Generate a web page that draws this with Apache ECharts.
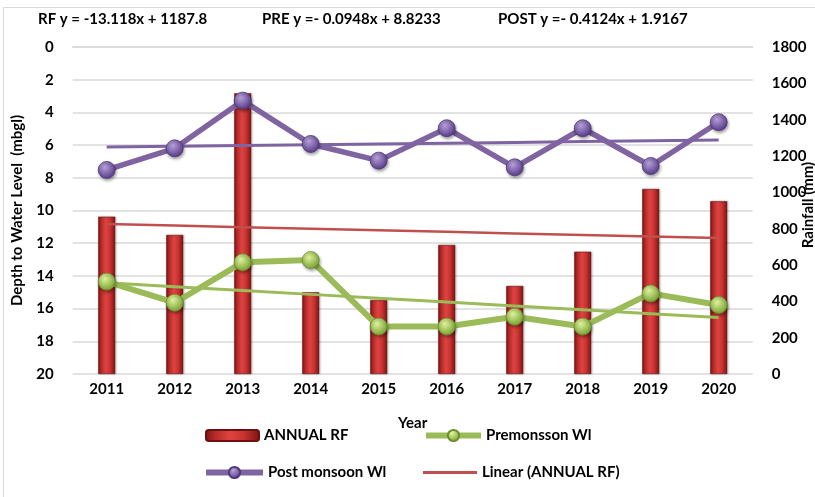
<!DOCTYPE html>
<html>
<head>
<meta charset="utf-8">
<script src="https://cdn.jsdelivr.net/npm/echarts@6/dist/echarts.min.js"></script>
<style>
  html, body { margin: 0; padding: 0; background: #ffffff; }
  #chart { width: 815px; height: 497px; }
</style>
</head>
<body>
<div id="chart"></div>
<script>
// Years on the category axis
const years = ['2011', '2012', '2013', '2014', '2015', '2016', '2017', '2018', '2019', '2020'];
// Annual rainfall (mm), right axis
const annualRF = [866, 765, 1545, 450, 407, 710, 484, 673, 1018, 951];
// Pre-monsoon depth to water level (mbgl), left axis
const preMonsoonWL = [14.35, 15.64, 13.17, 13.03, 17.1, 17.1, 16.5, 17.1, 15.07, 15.78];
// Post-monsoon depth to water level (mbgl), left axis
const postMonsoonWL = [7.52, 6.2, 3.28, 5.93, 6.95, 4.97, 7.36, 4.97, 7.28, 4.6];
// Tick labels
const depthTicks = ['0', '2', '4', '6', '8', '10', '12', '14', '16', '18', '20'];
const rainTicks = ['0', '200', '400', '600', '800', '1000', '1200', '1400', '1600', '1800'];
// Trend equations shown above the plot
const equations = ['RF y = -13.118x + 1187.8', 'PRE y =- 0.0948x + 8.8233', 'POST y =- 0.4124x + 1.9167'];

// Least-squares linear trend over the category index
function linearTrend(values) {
  const n = values.length;
  let sx = 0, sy = 0, sxy = 0, sxx = 0;
  values.forEach((v, i) => { sx += i; sy += v; sxy += i * v; sxx += i * i; });
  const slope = (n * sxy - sx * sy) / (n * sxx - sx * sx);
  const intercept = (sy - slope * sx) / n;
  return values.map((_, i) => +(intercept + slope * i).toFixed(3));
}

const FONT = 'Lato';
const TXT = '#000000';
const GRID = '#d9d9d9';

function sphere(light, dark) {
  return {
    type: 'radial', x: 0.38, y: 0.32, r: 0.75,
    colorStops: [
      { offset: 0, color: light },
      { offset: 1, color: dark }
    ]
  };
}

const barFill = {
  type: 'linear', x: 0, y: 0, x2: 1, y2: 0,
  colorStops: [
    { offset: 0, color: '#7a1414' },
    { offset: 0.18, color: '#b52a28' },
    { offset: 0.45, color: '#de4341' },
    { offset: 0.7, color: '#c93331' },
    { offset: 1, color: '#7a1414' }
  ]
};

const chart = echarts.init(document.getElementById('chart'), null, { renderer: 'canvas' });

const legendText = { fontFamily: FONT, fontWeight: 'bold', fontSize: 15, color: TXT };

chart.setOption({
  animation: false,
  backgroundColor: '#ffffff',
  graphic: [
    {
      type: 'rect', silent: true, z: -10,
      shape: { x: 3.5, y: 7.5, width: 900, height: 900 },
      style: { fill: 'none', stroke: '#d9d9d9', lineWidth: 1 }
    },
    { type: 'text', left: 38, top: 12, style: { text: equations[0], font: 'bold 15px ' + FONT, fill: TXT } },
    { type: 'text', left: 262, top: 12, style: { text: equations[1], font: 'bold 15px ' + FONT, fill: TXT } },
    { type: 'text', left: 498, top: 12, style: { text: equations[2], font: 'bold 15px ' + FONT, fill: TXT } },
    // Right axis title, set against the right edge of the chart box
    {
      type: 'text', x: 808, y: 205, rotation: Math.PI / 2,
      style: {
        text: 'Rainfall (mm)', font: 'bold 15px ' + FONT, fill: TXT,
        align: 'center', verticalAlign: 'middle'
      }
    }
  ],
  grid: { left: 72.7, right: 62.3, top: 47, bottom: 123, containLabel: false },
  legend: [
    {
      data: ['ANNUAL RF'], left: 205, top: 428, padding: 0,
      itemWidth: 53, itemHeight: 11, textStyle: legendText
    },
    {
      data: [{ name: 'Premonsson Wl', lineStyle: { width: 6 } }], left: 423, top: 428, padding: 0,
      itemWidth: 55, itemHeight: 14, textStyle: legendText,
      lineStyle: { width: 6 }
    },
    {
      data: [{ name: 'Post monsoon Wl', lineStyle: { width: 6 } }], left: 203, top: 465, padding: 0,
      itemWidth: 57, itemHeight: 14, textStyle: legendText,
      lineStyle: { width: 6 }
    },
    {
      data: [{ name: 'Linear (ANNUAL RF)', icon: 'rect' }], left: 423, top: 465, padding: 0,
      itemWidth: 54, itemHeight: 3, textStyle: legendText
    }
  ],
  xAxis: {
    type: 'category',
    data: years,
    boundaryGap: true,
    name: 'Year',
    nameLocation: 'middle',
    nameGap: 42,
    nameTextStyle: { fontFamily: FONT, fontWeight: 'bold', fontSize: 15, color: TXT },
    axisLine: { show: true, lineStyle: { color: GRID, width: 1.5 } },
    axisTick: { show: false },
    axisLabel: { fontFamily: FONT, fontWeight: 'bold', fontSize: 15, color: TXT, margin: 8 }
  },
  yAxis: [
    {
      type: 'value',
      inverse: true,
      min: 0, max: 20, interval: 2,
      name: 'Depth to Water Level  (mbgl)',
      nameLocation: 'middle',
      nameGap: 48,
      nameTextStyle: { fontFamily: FONT, fontWeight: 'bold', fontSize: 15, color: TXT },
      axisLine: { show: false },
      axisTick: { show: false },
      splitLine: { show: true, lineStyle: { color: GRID, width: 1.5 } },
      axisLabel: {
        fontFamily: FONT, fontWeight: 'bold', fontSize: 15, color: TXT, margin: 19,
        formatter: (v) => depthTicks[Math.round(v / 2)]
      }
    },
    {
      type: 'value',
      position: 'right',
      min: 0, max: 1800, interval: 200,
      axisLine: { show: false },
      axisTick: { show: false },
      splitLine: { show: false },
      axisLabel: {
        fontFamily: FONT, fontWeight: 'bold', fontSize: 15, color: TXT, margin: 19,
        formatter: (v) => rainTicks[Math.round(v / 200)]
      }
    }
  ],
  series: [
    {
      name: 'ANNUAL RF',
      type: 'bar',
      yAxisIndex: 1,
      data: annualRF,
      barWidth: 17,
      z: 1,
      itemStyle: {
        color: barFill,
        borderColor: '#6e1010',
        borderWidth: 0.5,
        shadowColor: 'rgba(0,0,0,0.25)', shadowBlur: 2, shadowOffsetX: 1
      }
    },
    {
      name: 'Linear (ANNUAL RF)',
      type: 'line',
      yAxisIndex: 1,
      data: linearTrend(annualRF),
      symbol: 'none',
      z: 3,
      lineStyle: { color: '#c0504d', width: 2.5 },
      itemStyle: { color: '#c0504d' }
    },
    {
      name: 'Linear (Premonsson Wl)',
      type: 'line',
      yAxisIndex: 0,
      data: linearTrend(preMonsoonWL),
      symbol: 'none',
      z: 3,
      lineStyle: { color: '#9bbb59', width: 3 },
      itemStyle: { color: '#9bbb59' }
    },
    {
      name: 'Linear (Post monsoon Wl)',
      type: 'line',
      yAxisIndex: 0,
      data: linearTrend(postMonsoonWL),
      symbol: 'none',
      z: 3,
      lineStyle: { color: '#8064a2', width: 3 },
      itemStyle: { color: '#8064a2' }
    },
    {
      name: 'Premonsson Wl',
      type: 'line',
      yAxisIndex: 0,
      data: preMonsoonWL,
      symbol: 'circle',
      symbolSize: 17,
      z: 5,
      lineStyle: { color: '#9bbb59', width: 6 },
      itemStyle: {
        color: sphere('#e2f5a0', '#6f9a26'),
        borderColor: '#6b8f2c', borderWidth: 0.8,
        shadowColor: 'rgba(0,0,0,0.35)', shadowBlur: 3, shadowOffsetX: 1, shadowOffsetY: 2
      }
    },
    {
      name: 'Post monsoon Wl',
      type: 'line',
      yAxisIndex: 0,
      data: postMonsoonWL,
      symbol: 'circle',
      symbolSize: 17,
      z: 5,
      lineStyle: { color: '#8064a2', width: 5.5 },
      itemStyle: {
        color: sphere('#b8a2dc', '#4e3180'),
        borderColor: '#4f3a75', borderWidth: 0.8,
        shadowColor: 'rgba(0,0,0,0.35)', shadowBlur: 3, shadowOffsetX: 1, shadowOffsetY: 2
      }
    }
  ]
});
</script>
</body>
</html>
